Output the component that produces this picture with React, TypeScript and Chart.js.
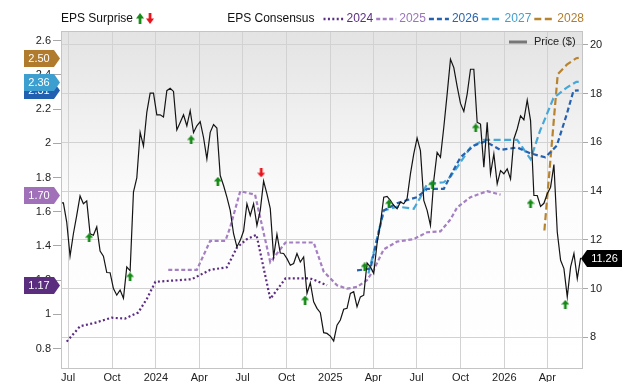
import { useEffect, useRef } from "react";
import { Chart, registerables } from "chart.js";

Chart.register(...registerables);

const FONT = "'Liberation Sans', Arial, Helvetica, sans-serif";

// ---------- axis data ----------
const QUARTER_DATES = ["2023-07-01", "2023-10-01", "2024-01-01", "2024-04-01", "2024-07-01", "2024-10-01", "2025-01-01", "2025-04-01", "2025-07-01", "2025-10-01", "2026-01-01", "2026-04-01"];
const QUARTER_LABELS = ["Jul", "Oct", "2024", "Apr", "Jul", "Oct", "2025", "Apr", "Jul", "Oct", "2026", "Apr"];
const X_START = "2023-06-16";
const X_END = "2026-06-15";

const EPS_TICKS = [0.8, 1, 1.2, 1.4, 1.6, 1.8, 2, 2.2, 2.4, 2.6];
const EPS_MIN = 0.68;
const EPS_MAX = 2.657;
const PRICE_TICKS = [8, 10, 12, 14, 16, 18, 20];
const PRICE_MIN = 6.7;
const PRICE_MAX = 20.57;

// ---------- price (weekly) ----------
const PRICE_START = "2023-06-14";
const PRICE_STEP_DAYS = 7;
const PRICE = [
  13.52, 13.52, 12.73, 11.33, 12.25, 13.0, 13.8, 13.48, 13.6, 12.25, 12.19, 12.53, 11.54, 11.33, 10.66, 10.65,
  10.0, 9.73, 9.94, 9.6, 10.89, 10.73, 13.96, 14.54, 16.41, 15.85, 17.23, 18.02, 18.02, 17.13, 17.13, 17.04,
  18.12, 18.22, 18.09, 16.51, 16.82, 17.13, 16.68, 17.3, 16.4,
  16.68, 16.85, 16.2, 15.32, 16.41, 16.73, 16.59, 14.64, 14.23, 13.75, 13.21, 12.25, 11.71, 11.98, 12.36, 13.48,
  13.0, 13.48, 12.59, 13.21, 14.41, 13.89, 13.28, 11.3, 12.23, 11.46, 11.44, 11.23, 10.96, 11.03, 11.44, 11.09,
  11.3, 9.8, 10.24, 9.46, 9.19, 9.01, 8.19, 8.16, 8.05, 7.85, 8.5, 8.71, 9.15, 9.19, 9.8, 9.87, 9.25, 9.66, 9.73,
  11.05, 10.89, 10.62, 11.85, 12.66, 13.75, 13.78, 13.62, 13.41, 13.28, 13.55, 13.48, 13.69, 14.71, 15.53, 16.18,
  15.66, 13.62, 13.21, 12.59, 14.44, 15.59, 15.39, 16.62, 17.98, 19.41, 19.07, 18.3, 17.6, 17.27, 17.98, 19.0,
  19.0, 16.82, 16.75, 14.98, 16.82, 14.71, 15.53, 14.3, 14.84, 14.71, 14.91, 14.5, 16.14, 16.55, 17.09, 16.92,
  17.73, 16.89, 13.82, 13.82, 13.37, 13.5, 13.89, 14.16, 15.09, 12.32, 11.16, 10.82, 9.66, 10.89, 11.44, 10.41, 11.26,
];

// ---------- EPS consensus ----------
const EPS2024_DATES = ["2023-06-28", "2023-07-26", "2023-08-26", "2023-09-30", "2023-10-28", "2023-11-25", "2023-12-13", "2023-12-31", "2024-03-16", "2024-04-24", "2024-05-29", "2024-06-19", "2024-07-10", "2024-07-30", "2024-08-28", "2024-09-29", "2024-11-20", "2024-12-25"];
const EPS2024 = [0.84, 0.93, 0.95, 0.98, 0.975, 1.01, 1.09, 1.19, 1.205, 1.26, 1.275, 1.39, 1.44, 1.465, 1.09, 1.21, 1.21, 1.17];

const EPS2025_DATES = ["2024-01-27", "2024-03-27", "2024-04-24", "2024-05-26", "2024-06-05", "2024-06-26", "2024-07-27", "2024-08-28", "2024-09-29", "2024-11-27", "2024-12-18", "2025-01-15", "2025-02-05", "2025-02-26", "2025-03-19", "2025-04-02", "2025-04-23", "2025-05-21", "2025-06-25", "2025-07-23", "2025-08-20", "2025-09-10", "2025-09-24", "2025-10-22", "2025-11-26", "2025-12-24"];
const EPS2025 = [1.26, 1.26, 1.43, 1.43, 1.51, 1.72, 1.7, 1.305, 1.42, 1.42, 1.25, 1.17, 1.15, 1.16, 1.2, 1.26, 1.38, 1.425, 1.44, 1.48, 1.485, 1.555, 1.625, 1.685, 1.72, 1.7];

const EPS2026_DATES = ["2025-02-26", "2025-03-26", "2025-04-23", "2025-05-21", "2025-07-02", "2025-07-23", "2025-08-27", "2025-09-10", "2025-10-01", "2025-10-29", "2025-11-22", "2025-12-24", "2026-01-28", "2026-02-25", "2026-03-28", "2026-04-21", "2026-05-12", "2026-05-26", "2026-06-06"];
const EPS2026 = [1.257, 1.267, 1.607, 1.65, 1.685, 1.733, 1.733, 1.811, 1.918, 1.986, 2.011, 1.961, 1.976, 1.941, 1.918, 1.986, 2.171, 2.307, 2.31];

const EPS2027_DATES = ["2025-03-22", "2025-04-23", "2025-05-21", "2025-06-25", "2025-07-09", "2025-07-23", "2025-08-27", "2025-09-10", "2025-09-24", "2025-10-22", "2025-11-19", "2026-01-28", "2026-02-25", "2026-03-17", "2026-04-14", "2026-05-12", "2026-06-01", "2026-06-06"];
const EPS2027 = [1.238, 1.607, 1.63, 1.617, 1.685, 1.763, 1.772, 1.805, 1.86, 1.976, 2.02, 2.02, 1.908, 2.074, 2.264, 2.326, 2.36, 2.36];

const EPS2028_DATES = ["2026-03-26", "2026-04-23", "2026-05-12", "2026-06-01", "2026-06-06"];
const EPS2028 = [1.49, 2.404, 2.46, 2.498, 2.5];

// ---------- EPS surprise markers (placed on price axis) ----------
const SURPRISE_UP_DATES = ["2023-08-14", "2023-11-08", "2024-03-15", "2024-05-10", "2024-11-09", "2025-03-14", "2025-05-04", "2025-08-03", "2025-11-02", "2026-02-25", "2026-05-09"];
const SURPRISE_UP_PRICE = [12.09, 10.48, 16.1, 14.4, 9.53, 10.89, 13.48, 14.26, 16.59, 13.48, 9.35];
const SURPRISE_DOWN_DATES = ["2024-08-09"];
const SURPRISE_DOWN_PRICE = [14.75];

// ---------- styles ----------
const SERIES = [
  { label: "2024", dates: EPS2024_DATES, values: EPS2024, color: "#5b2c83", text: "#5b2c83", tag: "#5a2d7e", dash: [2, 2.4], width: 2.2 },
  { label: "2025", dates: EPS2025_DATES, values: EPS2025, color: "#a47fc2", text: "#9a74b8", tag: "#a070b8", dash: [4, 2.5], width: 2.2 },
  { label: "2026", dates: EPS2026_DATES, values: EPS2026, color: "#2462b0", text: "#2a65b0", tag: "#2160b0", dash: [5, 3], width: 2.2 },
  { label: "2027", dates: EPS2027_DATES, values: EPS2027, color: "#45a8d8", text: "#3f9fd0", tag: "#3d9fd0", dash: [7, 3.5], width: 2.2 },
  { label: "2028", dates: EPS2028_DATES, values: EPS2028, color: "#b7832f", text: "#b07c2e", tag: "#b07b2d", dash: [7, 3.5], width: 2.2 },
];

const BASE = Date.UTC(2023, 6, 1);
function day(s: string): number {
  const [y, m, d] = s.split("-").map(Number);
  return (Date.UTC(y, m - 1, d) - BASE) / 86400000;
}

function makeArrow(up: boolean, color: string, w = 8, h = 9): HTMLCanvasElement {
  const c = document.createElement("canvas");
  c.width = w;
  c.height = h;
  const g = c.getContext("2d")!;
  g.fillStyle = color;
  const headH = h * 0.5;
  const stemW = w * 0.34;
  g.beginPath();
  if (up) {
    g.moveTo(0, headH);
    g.lineTo(w / 2, 0);
    g.lineTo(w, headH);
    g.closePath();
    g.fill();
    g.fillRect((w - stemW) / 2, headH - 0.5, stemW, h - headH + 0.5);
  } else {
    g.moveTo(0, h - headH);
    g.lineTo(w / 2, h);
    g.lineTo(w, h - headH);
    g.closePath();
    g.fill();
    g.fillRect((w - stemW) / 2, 0, stemW, h - headH + 0.5);
  }
  return c;
}

export default function App() {
  const ref = useRef<HTMLCanvasElement | null>(null);

  useEffect(() => {
    document.body.style.margin = "0";
    const canvas = ref.current;
    if (!canvas) return;

    const upArrow = makeArrow(true, "#168a16");
    const downArrow = makeArrow(false, "#e8121a");
    const upLegend = makeArrow(true, "#168a16", 8, 11);
    const downLegend = makeArrow(false, "#e8121a", 8, 11);

    const quarterDays = QUARTER_DATES.map(day);

    const datasets: any[] = [];
    datasets.push({
      type: "scatter",
      label: "up",
      data: SURPRISE_UP_DATES.map((d, i) => ({ x: day(d), y: SURPRISE_UP_PRICE[i] })),
      yAxisID: "price",
      pointStyle: upArrow,
      pointRadius: 5,
      order: 0,
    });
    datasets.push({
      type: "scatter",
      label: "down",
      data: SURPRISE_DOWN_DATES.map((d, i) => ({ x: day(d), y: SURPRISE_DOWN_PRICE[i] })),
      yAxisID: "price",
      pointStyle: downArrow,
      pointRadius: 5,
      order: 0,
    });
    datasets.push({
      type: "line",
      label: "Price ($)",
      data: PRICE.map((v, i) => ({ x: day(PRICE_START) + i * PRICE_STEP_DAYS, y: v })),
      yAxisID: "price",
      borderColor: "#141414",
      borderWidth: 1.2,
      pointRadius: 0,
      tension: 0,
      fill: false,
      order: 1,
    });
    SERIES.forEach((s) => {
      datasets.push({
        type: "line",
        label: s.label,
        data: s.dates.map((d, i) => ({ x: day(d), y: s.values[i] })),
        yAxisID: "eps",
        borderColor: s.color,
        borderWidth: s.width,
        borderDash: s.dash,
        borderCapStyle: "butt",
        pointRadius: 0,
        tension: 0,
        fill: false,
        order: 2,
      });
    });

    const decor = {
      id: "decor",
      beforeDraw(chart: any) {
        const { ctx, chartArea } = chart;
        const { left, right, top, bottom } = chartArea;
        const g = ctx.createLinearGradient(0, top, 0, bottom);
        g.addColorStop(0, "#e3e3e3");
        g.addColorStop(0.5, "#fcfcfc");
        g.addColorStop(1, "#ffffff");
        ctx.save();
        ctx.fillStyle = g;
        ctx.fillRect(left, top, right - left, bottom - top);
        ctx.restore();
      },
      afterDatasetsDraw(chart: any) {
        const { ctx, chartArea } = chart;
        const { left, right, top, bottom } = chartArea;
        ctx.save();
        ctx.strokeStyle = "#c4c4c4";
        ctx.lineWidth = 1;
        ctx.strokeRect(left + 0.5, top + 0.5, right - left - 1, bottom - top - 1);
        ctx.restore();
      },
      afterDraw(chart: any) {
        const { ctx, chartArea, scales } = chart;
        const { left, right, top } = chartArea;
        ctx.save();
        // ---- top legend ----
        const ly = 19;
        ctx.font = `12px ${FONT}`;
        ctx.textBaseline = "middle";
        ctx.textAlign = "left";
        ctx.fillStyle = "#111";
        ctx.fillText("EPS Surprise", left, ly);
        const sw = ctx.measureText("EPS Surprise").width;
        ctx.drawImage(upLegend, left + sw + 3, ly - 6);
        ctx.drawImage(downLegend, left + sw + 13, ly - 6);

        let x = right + 1;
        for (let i = SERIES.length - 1; i >= 0; i--) {
          const s = SERIES[i];
          const tw = ctx.measureText(s.label).width;
          x -= tw;
          ctx.fillStyle = s.text;
          ctx.fillText(s.label, x, ly);
          x -= 3;
          ctx.strokeStyle = s.color;
          ctx.lineWidth = 2.5;
          ctx.setLineDash(s.dash);
          ctx.beginPath();
          ctx.moveTo(x - 20, ly);
          ctx.lineTo(x, ly);
          ctx.stroke();
          ctx.setLineDash([]);
          x -= 20 + 3;
        }
        x -= 6;
        ctx.textAlign = "right";
        ctx.fillStyle = "#111";
        ctx.fillText("EPS Consensus", x, ly);

        // ---- price legend inside plot ----
        ctx.strokeStyle = "#777";
        ctx.lineWidth = 3;
        ctx.beginPath();
        ctx.moveTo(509, top + 11);
        ctx.lineTo(527, top + 11);
        ctx.stroke();
        ctx.font = `11px ${FONT}`;
        ctx.textAlign = "left";
        ctx.fillStyle = "#222";
        ctx.fillText("Price ($)", 534, top + 11);

        // ---- left tags (last consensus values) ----
        const eps = scales.eps;
        const h = 17;
        SERIES.forEach((s) => {
          const v = s.values[s.values.length - 1];
          const yy = Math.round(eps.getPixelForValue(v)) + 0.5;
          const tip = left - 1;
          const x1 = tip - 6;
          const x0 = 24;
          ctx.fillStyle = s.tag;
          ctx.beginPath();
          ctx.moveTo(x0, yy - h / 2);
          ctx.lineTo(x1, yy - h / 2);
          ctx.lineTo(tip, yy);
          ctx.lineTo(x1, yy + h / 2);
          ctx.lineTo(x0, yy + h / 2);
          ctx.closePath();
          ctx.fill();
          ctx.fillStyle = "#fff";
          ctx.textAlign = "center";
          ctx.font = `11px ${FONT}`;
          ctx.fillText(v.toFixed(2), (x0 + x1) / 2, yy + 0.5);
        });

        // ---- right tag (last price) ----
        const pv = PRICE[PRICE.length - 1];
        const py = Math.round(scales.price.getPixelForValue(pv)) + 0.5;
        const rt = right - 2;
        ctx.fillStyle = "#000";
        ctx.beginPath();
        ctx.moveTo(rt, py);
        ctx.lineTo(rt + 6, py - h / 2);
        ctx.lineTo(622, py - h / 2);
        ctx.lineTo(622, py + h / 2);
        ctx.lineTo(rt + 6, py + h / 2);
        ctx.closePath();
        ctx.fill();
        ctx.fillStyle = "#fff";
        ctx.textAlign = "center";
        ctx.fillText(pv.toFixed(2), (rt + 6 + 622) / 2, py + 0.5);
        ctx.restore();
      },
    };

    const chart = new Chart(canvas, {
      type: "line",
      data: { datasets },
      plugins: [decor],
      options: {
        animation: false,
        responsive: false,
        devicePixelRatio: 1,
        layout: { padding: { top: 31, left: 0, right: 0, bottom: 0 } },
        plugins: { legend: { display: false }, tooltip: { enabled: false } },
        scales: {
          x: {
            type: "linear",
            min: day(X_START),
            max: day(X_END),
            afterBuildTicks: (scale: any) => {
              scale.ticks = quarterDays.map((v) => ({ value: v }));
            },
            afterFit: (scale: any) => {
              scale.height = 13;
            },
            ticks: {
              autoSkip: false,
              maxRotation: 0,
              padding: 2,
              color: "#222",
              font: { family: FONT, size: 11 },
              callback: (_v: any, i: number) => QUARTER_LABELS[i],
            },
            grid: { color: "#d2d2d2", lineWidth: 1, drawTicks: false },
            border: { display: false },
          },
          eps: {
            type: "linear",
            position: "left",
            min: EPS_MIN,
            max: EPS_MAX,
            afterBuildTicks: (scale: any) => {
              scale.ticks = EPS_TICKS.map((v) => ({ value: v }));
            },
            afterFit: (scale: any) => {
              scale.width = 61;
            },
            ticks: {
              padding: 2,
              color: "#222",
              font: { family: FONT, size: 11 },
              callback: (v: any) => String(Number(Number(v).toFixed(1))),
            },
            grid: { drawOnChartArea: false, drawTicks: true, tickLength: 8, tickColor: "#a8a8a8" },
            border: { display: false },
          },
          price: {
            type: "linear",
            position: "right",
            min: PRICE_MIN,
            max: PRICE_MAX,
            afterBuildTicks: (scale: any) => {
              scale.ticks = PRICE_TICKS.map((v) => ({ value: v }));
            },
            afterFit: (scale: any) => {
              scale.width = 57;
            },
            ticks: {
              padding: 2,
              color: "#222",
              font: { family: FONT, size: 11 },
              callback: (v: any) => String(v),
            },
            grid: { color: "#d2d2d2", lineWidth: 1, drawTicks: true, tickLength: 5, tickColor: "#a8a8a8" },
            border: { display: false },
          },
        },
      } as any,
    });

    return () => chart.destroy();
  }, []);

  return (
    <div style={{ width: 640, height: 382, background: "#fff" }}>
      <canvas ref={ref} width={640} height={382} style={{ display: "block" }} />
    </div>
  );
}
